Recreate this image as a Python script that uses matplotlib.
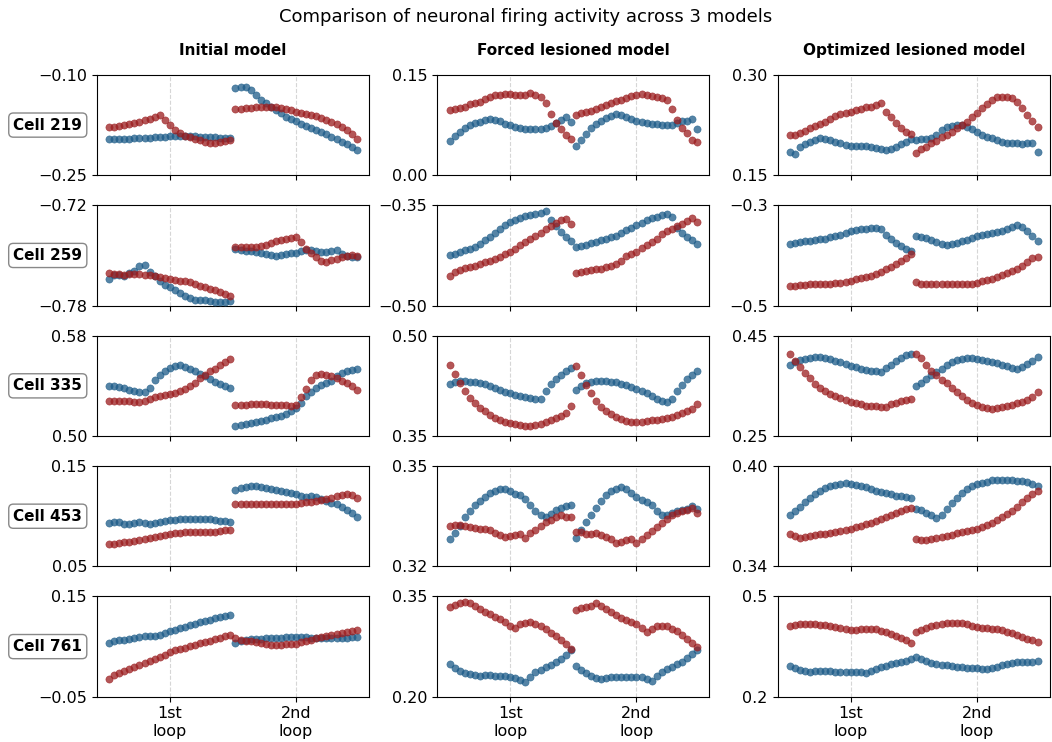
import numpy as np
import matplotlib
matplotlib.use("Agg")
from matplotlib import pyplot as plt

cells = ['Cell 219', 'Cell 259', 'Cell 335', 'Cell 453', 'Cell 761']
models = ['Initial model', 'Forced lesioned model', 'Optimized lesioned model']
loop_labels = ['1st\nloop', '2nd\nloop']

# y limits (bottom, top) and their tick labels, row by row
ylims = [[(-0.25, -0.10), (0.00, 0.15), (0.15, 0.30)],
         [(-0.78, -0.72), (-0.50, -0.35), (-0.5, -0.3)],
         [(0.50, 0.58), (0.35, 0.50), (0.25, 0.45)],
         [(0.05, 0.15), (0.32, 0.35), (0.34, 0.40)],
         [(-0.05, 0.15), (0.20, 0.35), (0.2, 0.5)]]
ytick_labels = [[('\u22120.25', '\u22120.10'), ('0.00', '0.15'), ('0.15', '0.30')],
                [('\u22120.78', '\u22120.72'), ('\u22120.50', '\u22120.35'), ('\u22120.5', '\u22120.3')],
                [('0.50', '0.58'), ('0.35', '0.50'), ('0.25', '0.45')],
                [('0.05', '0.15'), ('0.32', '0.35'), ('0.34', '0.40')],
                [('\u22120.05', '0.15'), ('0.20', '0.35'), ('0.2', '0.5')]]

# firing rates, 25 samples per loop, two loops back to back
# cell 219
c219_init_blue = [-0.196, -0.1965, -0.1965, -0.196, -0.1955, -0.195, -0.195, -0.1945, -0.194, -0.1935, -0.193, -0.1925, -0.192, -0.192, -0.1915, -0.1915, -0.192, -0.192, -0.1925, -0.1925, -0.193, -0.1935, -0.194, -0.1945, -0.195,
                  -0.119, -0.1185, -0.1175, -0.1225, -0.13, -0.1375, -0.1425, -0.1475, -0.1525, -0.1575, -0.1625, -0.166, -0.169, -0.1735, -0.1765, -0.18, -0.1825, -0.185, -0.1885, -0.1925, -0.1965, -0.2, -0.2035, -0.2085, -0.2125]
c219_init_red = [-0.1775, -0.1775, -0.1765, -0.175, -0.1735, -0.172, -0.170, -0.1675, -0.1655, -0.1625, -0.160, -0.1675, -0.175, -0.1825, -0.1875, -0.1915, -0.1935, -0.1955, -0.1975, -0.2, -0.2015, -0.2015, -0.2, -0.1985, -0.1975,
                 -0.1515, -0.1505, -0.1495, -0.149, -0.1485, -0.148, -0.1475, -0.1475, -0.148, -0.149, -0.151, -0.153, -0.155, -0.1565, -0.158, -0.1595, -0.1615, -0.1645, -0.1675, -0.1705, -0.174, -0.178, -0.183, -0.1885, -0.1965]
c219_forced_blue = [0.051, 0.0585, 0.065, 0.07, 0.075, 0.0785, 0.08, 0.0825, 0.084, 0.0825, 0.081, 0.0765, 0.0745, 0.0725, 0.0705, 0.069, 0.0685, 0.069, 0.0695, 0.071, 0.0735, 0.0775, 0.0825, 0.0875, 0.079,
                    0.0435, 0.0525, 0.0615, 0.071, 0.076, 0.081, 0.085, 0.089, 0.091, 0.0895, 0.0865, 0.0835, 0.0815, 0.0795, 0.0775, 0.0765, 0.0765, 0.0755, 0.075, 0.075, 0.0785, 0.0805, 0.0815, 0.0845, 0.0685]
c219_forced_red = [0.0975, 0.099, 0.101, 0.1025, 0.106, 0.1085, 0.11, 0.1135, 0.1165, 0.1195, 0.1205, 0.121, 0.121, 0.1205, 0.12, 0.1205, 0.1225, 0.1205, 0.1175, 0.1075, 0.091, 0.0775, 0.0685, 0.06, 0.0535,
                   0.09, 0.0925, 0.094, 0.0965, 0.0995, 0.102, 0.105, 0.1075, 0.1105, 0.1125, 0.115, 0.1185, 0.1205, 0.1215, 0.1205, 0.1185, 0.117, 0.115, 0.1125, 0.0985, 0.0825, 0.071, 0.0625, 0.0525, 0.05]
c219_opt_blue = [0.185, 0.1815, 0.1915, 0.1965, 0.2, 0.2025, 0.2055, 0.2045, 0.202, 0.1995, 0.1975, 0.1955, 0.1935, 0.1935, 0.1935, 0.193, 0.1915, 0.19, 0.1885, 0.1875, 0.1895, 0.1925, 0.1965, 0.2, 0.2035,
                 0.2025, 0.2035, 0.204, 0.205, 0.21, 0.2175, 0.2215, 0.224, 0.225, 0.2245, 0.2215, 0.2185, 0.215, 0.21, 0.2065, 0.205, 0.2025, 0.2, 0.1985, 0.1975, 0.1975, 0.1965, 0.1975, 0.1985, 0.185]
c219_opt_red = [0.2095, 0.21, 0.2125, 0.216, 0.22, 0.2235, 0.2265, 0.2295, 0.234, 0.2385, 0.241, 0.2425, 0.2445, 0.2475, 0.2495, 0.2515, 0.2525, 0.2545, 0.2585, 0.245, 0.2365, 0.2285, 0.221, 0.215, 0.2115,
                0.1835, 0.1885, 0.1925, 0.1975, 0.2015, 0.2065, 0.21, 0.215, 0.22, 0.225, 0.23, 0.2365, 0.2425, 0.25, 0.2565, 0.2625, 0.2665, 0.2675, 0.2675, 0.266, 0.26, 0.25, 0.24, 0.2315, 0.2225]

# cell 259
c259_init_blue = [-0.764, -0.7616, -0.7616, -0.762, -0.7604, -0.759, -0.7564, -0.756, -0.7596, -0.7624, -0.765, -0.7674, -0.769, -0.7706, -0.7724, -0.7744, -0.7756, -0.7764, -0.7768, -0.7766, -0.7772, -0.778, -0.778, -0.7776, -0.7774,
                  -0.7464, -0.7468, -0.7472, -0.7476, -0.748, -0.7484, -0.749, -0.7496, -0.7502, -0.75, -0.7494, -0.7488, -0.7484, -0.7476, -0.7466, -0.7468, -0.7474, -0.748, -0.748, -0.7476, -0.747, -0.749, -0.7504, -0.751, -0.7512]
c259_init_red = [-0.7604, -0.7608, -0.7612, -0.7614, -0.7612, -0.761, -0.761, -0.7614, -0.7618, -0.7624, -0.763, -0.7636, -0.764, -0.7644, -0.765, -0.7654, -0.766, -0.767, -0.768, -0.769, -0.770, -0.7708, -0.7718, -0.7728, -0.774,
                 -0.745, -0.745, -0.745, -0.7452, -0.7452, -0.7444, -0.7436, -0.7428, -0.7416, -0.7408, -0.7404, -0.7396, -0.7388, -0.742, -0.746, -0.7484, -0.751, -0.7536, -0.754, -0.753, -0.752, -0.7512, -0.7506, -0.75, -0.7504]
c259_forced_blue = [-0.424, -0.4225, -0.42, -0.4175, -0.4155, -0.4125, -0.4075, -0.4025, -0.3975, -0.3915, -0.385, -0.379, -0.375, -0.3715, -0.3685, -0.3665, -0.365, -0.3635, -0.361, -0.3585, -0.3715, -0.3815, -0.39, -0.3975, -0.4035,
                    -0.4125, -0.4115, -0.409, -0.4065, -0.4045, -0.4025, -0.4005, -0.398, -0.3955, -0.3915, -0.3875, -0.384, -0.38, -0.376, -0.372, -0.3695, -0.3675, -0.365, -0.3635, -0.3675, -0.3835, -0.3915, -0.3975, -0.4025, -0.4075]
c259_forced_red = [-0.455, -0.45, -0.446, -0.444, -0.4425, -0.4405, -0.4385, -0.4355, -0.4335, -0.4305, -0.4275, -0.4235, -0.42, -0.415, -0.41, -0.4055, -0.4005, -0.396, -0.391, -0.386, -0.381, -0.3765, -0.3725, -0.37, -0.3775,
                   -0.4515, -0.449, -0.4475, -0.4465, -0.4455, -0.4445, -0.4425, -0.4405, -0.4375, -0.4335, -0.4265, -0.4225, -0.42, -0.4145, -0.41, -0.405, -0.4, -0.3935, -0.3885, -0.385, -0.3805, -0.3775, -0.3735, -0.3685, -0.375]
c259_opt_blue = [-0.3767, -0.3753, -0.3733, -0.372, -0.3707, -0.3693, -0.368, -0.3667, -0.364, -0.3613, -0.3587, -0.3553, -0.352, -0.3493, -0.348, -0.3467, -0.3453, -0.3453, -0.348, -0.3587, -0.3667, -0.3747, -0.3813, -0.3867, -0.392,
                 -0.3613, -0.3627, -0.3653, -0.3693, -0.3733, -0.3767, -0.3787, -0.3773, -0.3753, -0.372, -0.3693, -0.3653, -0.3613, -0.3587, -0.3567, -0.3553, -0.3533, -0.3507, -0.348, -0.344, -0.34, -0.3427, -0.352, -0.3613, -0.3707]
c259_opt_red = [-0.4613, -0.46, -0.4587, -0.458, -0.4573, -0.4573, -0.4567, -0.456, -0.456, -0.4553, -0.454, -0.452, -0.45, -0.4473, -0.4453, -0.4427, -0.44, -0.436, -0.432, -0.4273, -0.4227, -0.4173, -0.4113, -0.4053, -0.398,
                -0.452, -0.456, -0.4567, -0.4567, -0.4567, -0.4573, -0.4573, -0.4573, -0.4573, -0.4573, -0.4567, -0.456, -0.454, -0.4513, -0.448, -0.446, -0.4427, -0.4393, -0.4353, -0.4313, -0.426, -0.4213, -0.414, -0.4053, -0.404]

# cell 335
c335_init_blue = [0.5401, 0.5396, 0.539, 0.538, 0.5364, 0.5358, 0.5353, 0.5347, 0.5385, 0.545, 0.5488, 0.5521, 0.5542, 0.5559, 0.5564, 0.5553, 0.5537, 0.5515, 0.5496, 0.5475, 0.5456, 0.5434, 0.5412, 0.5399, 0.5385,
                  0.5076, 0.5087, 0.5098, 0.5104, 0.5109, 0.512, 0.5131, 0.5142, 0.5152, 0.5163, 0.5174, 0.5196, 0.5223, 0.5266, 0.5315, 0.5353, 0.538, 0.5407, 0.5421, 0.544, 0.5475, 0.5502, 0.5515, 0.5529, 0.5534]
c335_init_red = [0.5277, 0.5282, 0.5282, 0.528, 0.5277, 0.5274, 0.5274, 0.5277, 0.5293, 0.5309, 0.5318, 0.5323, 0.5331, 0.5345, 0.5356, 0.5372, 0.5396, 0.5426, 0.5461, 0.5488, 0.5515, 0.5537, 0.5564, 0.5591, 0.5618,
                 0.525, 0.525, 0.525, 0.5253, 0.5255, 0.5258, 0.5255, 0.525, 0.525, 0.5247, 0.5244, 0.5242, 0.5244, 0.5312, 0.5375, 0.5448, 0.5488, 0.5494, 0.5488, 0.5475, 0.5461, 0.5442, 0.5421, 0.5402, 0.5364]
c335_forced_blue = [0.4274, 0.4314, 0.4324, 0.4324, 0.4314, 0.4304, 0.4289, 0.4274, 0.4253, 0.4223, 0.4187, 0.4162, 0.4136, 0.4116, 0.4101, 0.4086, 0.407, 0.4055, 0.406, 0.4172, 0.4274, 0.435, 0.4416, 0.4467, 0.4517,
                    0.4187, 0.4253, 0.4289, 0.4314, 0.4324, 0.4329, 0.4324, 0.4314, 0.4304, 0.4284, 0.4258, 0.4233, 0.4202, 0.4172, 0.4136, 0.4101, 0.406, 0.403, 0.4009, 0.405, 0.4172, 0.4263, 0.4345, 0.4416, 0.4467]
c335_forced_red = [0.4558, 0.4426, 0.4289, 0.4172, 0.407, 0.3989, 0.3918, 0.3867, 0.3821, 0.3776, 0.374, 0.3705, 0.3689, 0.3679, 0.3664, 0.3644, 0.3654, 0.3664, 0.3684, 0.3705, 0.3735, 0.3766, 0.3806, 0.3842, 0.3948,
                   0.4543, 0.4406, 0.4263, 0.4136, 0.402, 0.3938, 0.3877, 0.3827, 0.3791, 0.3755, 0.373, 0.3715, 0.3705, 0.3705, 0.3725, 0.374, 0.3745, 0.3755, 0.3766, 0.3786, 0.3816, 0.3847, 0.3877, 0.3908, 0.3984]
c335_opt_blue = [0.391, 0.3978, 0.4019, 0.4039, 0.4053, 0.4073, 0.4066, 0.4053, 0.4032, 0.4005, 0.3971, 0.3937, 0.3897, 0.3869, 0.3842, 0.3822, 0.3802, 0.3788, 0.3781, 0.3856, 0.3924, 0.3991, 0.4059, 0.4114, 0.4141,
                 0.3503, 0.3564, 0.3632, 0.3707, 0.3775, 0.3842, 0.391, 0.3971, 0.4012, 0.4032, 0.4046, 0.4046, 0.4039, 0.4025, 0.4005, 0.3985, 0.3958, 0.3924, 0.389, 0.3856, 0.3829, 0.3869, 0.3937, 0.4005, 0.408]
c335_opt_red = [0.4127, 0.4005, 0.3869, 0.3754, 0.3652, 0.3544, 0.3463, 0.3395, 0.3341, 0.3293, 0.3252, 0.3212, 0.3185, 0.3164, 0.313, 0.3103, 0.309, 0.3097, 0.3083, 0.3083, 0.313, 0.3158, 0.3191, 0.3219, 0.3246,
                0.4141, 0.4059, 0.3924, 0.3802, 0.3707, 0.3619, 0.3551, 0.3463, 0.3381, 0.33, 0.3219, 0.3158, 0.311, 0.3076, 0.3049, 0.3042, 0.3056, 0.3076, 0.3097, 0.3124, 0.3151, 0.3185, 0.3219, 0.3273, 0.3381]

# cell 453
c453_init_blue = [0.0934, 0.0944, 0.0941, 0.0927, 0.092, 0.0931, 0.0941, 0.0934, 0.0924, 0.0937, 0.0947, 0.0951, 0.0958, 0.0961, 0.0968, 0.0975, 0.0975, 0.0968, 0.0971, 0.0975, 0.0968, 0.0961, 0.0951, 0.0954, 0.0947,
                  0.1259, 0.128, 0.129, 0.1297, 0.1297, 0.1293, 0.1286, 0.1276, 0.1266, 0.1256, 0.1246, 0.1232, 0.1219, 0.1205, 0.1195, 0.1198, 0.1188, 0.1168, 0.1151, 0.1134, 0.1117, 0.1093, 0.1066, 0.1036, 0.0991]
c453_init_red = [0.072, 0.0727, 0.0734, 0.0741, 0.0747, 0.0754, 0.0764, 0.0775, 0.0785, 0.0795, 0.0805, 0.0815, 0.0822, 0.0829, 0.0836, 0.0839, 0.0842, 0.0842, 0.0842, 0.0842, 0.0846, 0.0846, 0.0853, 0.0859, 0.0866,
                 0.1124, 0.1124, 0.1124, 0.1124, 0.1124, 0.1124, 0.112, 0.112, 0.1117, 0.1117, 0.1117, 0.112, 0.1124, 0.113, 0.1137, 0.1144, 0.1154, 0.1164, 0.1175, 0.1185, 0.1198, 0.1212, 0.1222, 0.1215, 0.1185]
c453_forced_blue = [0.3281, 0.33, 0.3322, 0.3347, 0.3365, 0.3383, 0.3396, 0.3408, 0.3419, 0.3426, 0.343, 0.3432, 0.3426, 0.3417, 0.3412, 0.3401, 0.3383, 0.3365, 0.3353, 0.3347, 0.3358, 0.3368, 0.3375, 0.3381, 0.3385,
                    0.3286, 0.331, 0.3332, 0.3355, 0.3375, 0.3395, 0.3412, 0.3424, 0.3432, 0.3436, 0.3432, 0.3419, 0.3408, 0.34, 0.3393, 0.3383, 0.3365, 0.3355, 0.3353, 0.3361, 0.3365, 0.3368, 0.3373, 0.3381, 0.3373]
c453_forced_red = [0.3322, 0.3324, 0.3323, 0.332, 0.3318, 0.3316, 0.3313, 0.3311, 0.3308, 0.33, 0.3294, 0.3287, 0.3291, 0.3294, 0.3296, 0.3285, 0.33, 0.331, 0.332, 0.3332, 0.334, 0.3347, 0.3353, 0.3347, 0.3349,
                   0.3304, 0.3302, 0.3298, 0.3296, 0.33, 0.3294, 0.3289, 0.3283, 0.3269, 0.3273, 0.3279, 0.3281, 0.3269, 0.3283, 0.3294, 0.3306, 0.3318, 0.333, 0.3342, 0.3353, 0.3361, 0.3365, 0.337, 0.3375, 0.3361]
c453_opt_blue = [0.3706, 0.373, 0.3756, 0.3783, 0.3807, 0.3832, 0.3852, 0.3868, 0.388, 0.3888, 0.3892, 0.3896, 0.3894, 0.3888, 0.388, 0.3872, 0.386, 0.3852, 0.3842, 0.3838, 0.3832, 0.3823, 0.3819, 0.3815, 0.3811,
                 0.3746, 0.3736, 0.3722, 0.371, 0.3689, 0.3706, 0.3742, 0.3777, 0.3811, 0.3838, 0.386, 0.3878, 0.389, 0.3898, 0.3907, 0.3915, 0.3919, 0.3919, 0.3917, 0.3917, 0.3913, 0.3909, 0.3903, 0.3892, 0.3878]
c453_opt_red = [0.3594, 0.3584, 0.3568, 0.3576, 0.3584, 0.3588, 0.3592, 0.3596, 0.36, 0.3606, 0.3612, 0.3618, 0.3624, 0.3633, 0.3641, 0.3651, 0.3661, 0.3671, 0.3681, 0.3693, 0.3708, 0.3722, 0.3734, 0.3744, 0.375,
                0.3564, 0.3557, 0.3555, 0.3564, 0.357, 0.3576, 0.3584, 0.359, 0.3598, 0.3604, 0.361, 0.3616, 0.3624, 0.3635, 0.3645, 0.3659, 0.3675, 0.3693, 0.3714, 0.3734, 0.3758, 0.3783, 0.3807, 0.3832, 0.3848]

# cell 761
c761_init_blue = [0.0573, 0.0613, 0.0626, 0.0633, 0.0646, 0.0666, 0.0692, 0.0706, 0.0712, 0.0719, 0.0739, 0.0772, 0.0805, 0.0838, 0.0871, 0.0891, 0.0924, 0.095, 0.0984, 0.101, 0.1037, 0.107, 0.109, 0.1109, 0.1123,
                  0.0573, 0.0606, 0.0633, 0.0646, 0.0653, 0.0659, 0.0666, 0.0672, 0.0679, 0.0679, 0.0686, 0.0686, 0.0686, 0.0686, 0.0686, 0.0679, 0.0679, 0.0679, 0.0679, 0.0679, 0.0679, 0.0679, 0.0679, 0.0686, 0.0686]
c761_init_red = [-0.0142, -0.0069, -0.0023, 0.0017, 0.0057, 0.0097, 0.0136, 0.0176, 0.0216, 0.0255, 0.0295, 0.0341, 0.0394, 0.0428, 0.0454, 0.048, 0.0513, 0.054, 0.0566, 0.0593, 0.0619, 0.0652, 0.0679, 0.0705, 0.0732,
                 0.0666, 0.0639, 0.0619, 0.0606, 0.0593, 0.058, 0.056, 0.054, 0.0533, 0.054, 0.0547, 0.0547, 0.056, 0.0586, 0.0613, 0.0639, 0.0666, 0.0692, 0.0712, 0.0739, 0.0759, 0.0778, 0.0798, 0.0818, 0.0831]
c761_forced_blue = [0.249, 0.2424, 0.2384, 0.2354, 0.2338, 0.2323, 0.2313, 0.2323, 0.2323, 0.2313, 0.2313, 0.2303, 0.2293, 0.2273, 0.2253, 0.2222, 0.2288, 0.2364, 0.2404, 0.2444, 0.248, 0.252, 0.2571, 0.2631, 0.2702,
                    0.2465, 0.2404, 0.2354, 0.2313, 0.2283, 0.2263, 0.2273, 0.2293, 0.2298, 0.2298, 0.2293, 0.2288, 0.2293, 0.2298, 0.2263, 0.2232, 0.2313, 0.2374, 0.2414, 0.245, 0.2485, 0.2525, 0.2576, 0.2636, 0.2697]
c761_forced_red = [0.3348, 0.3374, 0.3399, 0.3424, 0.3404, 0.3359, 0.3313, 0.3273, 0.3232, 0.3197, 0.3162, 0.3121, 0.3061, 0.303, 0.3081, 0.3106, 0.3111, 0.3091, 0.3061, 0.301, 0.296, 0.2909, 0.2854, 0.2793, 0.2717,
                   0.3298, 0.3323, 0.3343, 0.3359, 0.3399, 0.3364, 0.3313, 0.3263, 0.3222, 0.3182, 0.3141, 0.3111, 0.3081, 0.3035, 0.297, 0.302, 0.3051, 0.3061, 0.3051, 0.302, 0.298, 0.2919, 0.2859, 0.2798, 0.2742]
c761_opt_blue = [0.2929, 0.2869, 0.2808, 0.2758, 0.2748, 0.2758, 0.2768, 0.2768, 0.2758, 0.2748, 0.2748, 0.2748, 0.2748, 0.2738, 0.2727, 0.2707, 0.2758, 0.2828, 0.2879, 0.2929, 0.297, 0.3, 0.303, 0.3071, 0.3131,
                 0.3192, 0.3131, 0.3071, 0.302, 0.299, 0.296, 0.294, 0.2919, 0.2899, 0.2879, 0.2869, 0.2859, 0.2849, 0.2838, 0.2838, 0.2849, 0.2899, 0.295, 0.299, 0.301, 0.303, 0.304, 0.305, 0.305, 0.306]
c761_opt_red = [0.4111, 0.4141, 0.4162, 0.4172, 0.4182, 0.4172, 0.4152, 0.4131, 0.4111, 0.4091, 0.4061, 0.4041, 0.401, 0.4, 0.402, 0.403, 0.4041, 0.402, 0.398, 0.3929, 0.3869, 0.3818, 0.3758, 0.3697, 0.3616,
                0.3939, 0.401, 0.4061, 0.4111, 0.4141, 0.4172, 0.4192, 0.4212, 0.4212, 0.4192, 0.4162, 0.4121, 0.4081, 0.4061, 0.4051, 0.4041, 0.402, 0.399, 0.395, 0.3899, 0.3849, 0.3798, 0.3737, 0.3687, 0.3636]

blue_series = [[c219_init_blue, c219_forced_blue, c219_opt_blue],
               [c259_init_blue, c259_forced_blue, c259_opt_blue],
               [c335_init_blue, c335_forced_blue, c335_opt_blue],
               [c453_init_blue, c453_forced_blue, c453_opt_blue],
               [c761_init_blue, c761_forced_blue, c761_opt_blue]]
red_series = [[c219_init_red, c219_forced_red, c219_opt_red],
              [c259_init_red, c259_forced_red, c259_opt_red],
              [c335_init_red, c335_forced_red, c335_opt_red],
              [c453_init_red, c453_forced_red, c453_opt_red],
              [c761_init_red, c761_forced_red, c761_opt_red]]

BLUE = '#1c5b88'
RED = '#9b1d1f'

n_per_loop = 25
x = np.arange(2 * n_per_loop)
loop_centers = [(n_per_loop - 1) / 2, n_per_loop + (n_per_loop - 1) / 2]

fig, axes = plt.subplots(5, 3, figsize=(10.52, 7.42), dpi=100, sharex=True)
fig.subplots_adjust(left=0.092, right=0.998, top=0.899, bottom=0.061,
                    wspace=0.25, hspace=0.30)

for r in range(5):
    for c in range(3):
        ax = axes[r, c]
        ax.scatter(x, blue_series[r][c], s=27, color=BLUE, alpha=0.75,
                   linewidths=0.4, zorder=3)
        ax.scatter(x, red_series[r][c], s=27, color=RED, alpha=0.75,
                   linewidths=0.4, zorder=3)
        lo, hi = ylims[r][c]
        ax.set_ylim(lo, hi)
        ax.set_yticks([lo, hi])
        ax.set_yticklabels(ytick_labels[r][c])
        ax.set_xticks(loop_centers)
        ax.set_xticklabels(loop_labels)
        ax.tick_params(labelsize=11.5)
        ax.grid(axis='x', linestyle='--', color='#cccccc', linewidth=0.8, alpha=0.8)
        if r == 0:
            ax.set_title(models[c], fontweight='bold', fontsize=11, pad=14)
        if c == 0:
            ax.text(-0.18, 0.5, cells[r], transform=ax.transAxes,
                    ha='center', va='center', fontsize=11, fontweight='bold',
                    bbox=dict(boxstyle='round,pad=0.3', facecolor='white',
                              edgecolor='#888888'))

fig.suptitle('Comparison of neuronal firing activity across 3 models',
             fontsize=13, y=0.977, va='center')

fig.savefig('out.png', dpi=100)
